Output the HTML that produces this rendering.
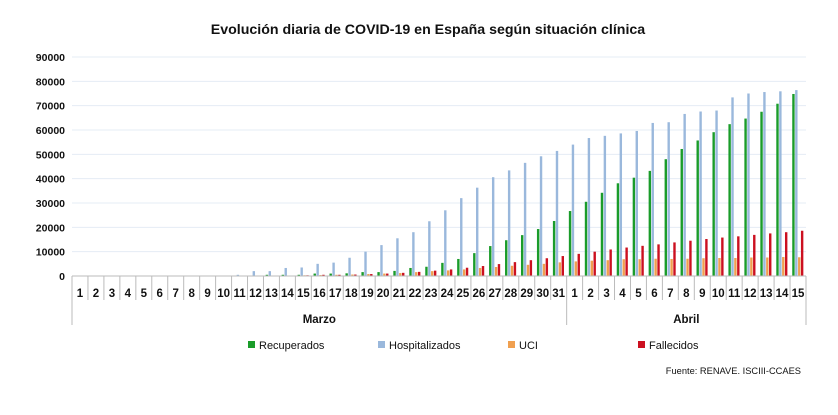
<!DOCTYPE html>
<html><head><meta charset="utf-8"><style>
body{margin:0;background:#fff;width:838px;height:410px;overflow:hidden;font-family:"Liberation Sans",Arial,sans-serif}
</style></head><body>
<svg id="s" width="838" height="410" xmlns="http://www.w3.org/2000/svg" font-family="Liberation Sans, Arial, sans-serif">
<text x="428" y="34" text-anchor="middle" font-size="14.2" font-weight="bold" fill="#111">Evolución diaria de COVID-19 en España según situación clínica</text>
<text x="801" y="374" text-anchor="end" font-size="9.3" fill="#111">Fuente: RENAVE. ISCIII-CCAES</text>
</svg>
<script>
var s=document.getElementById('s'),NS='http://www.w3.org/2000/svg';
function el(t,a,txt){var e=document.createElementNS(NS,t);for(var k in a)e.setAttribute(k,a[k]);if(txt!=null)e.textContent=txt;s.appendChild(e);return e;}
var x0=72,x1=806,y0=276,ppu=219/90000,n=46,w=(x1-x0)/n;
for(var i=0;i<=9;i++){var y=y0-i*10000*ppu;
 if(i>0)el('line',{x1:x0,x2:x1,y1:y,y2:y,stroke:'#e4ecf5','stroke-width':1});
 el('text',{x:65,y:y+4,'text-anchor':'end','font-size':10.5,'font-weight':'bold',fill:'#111'},String(i*10000));}
var z=Array(9).fill(0);
var hosp=z.concat([200,500,2000,2000,3300,3500,5000,5500,7500,10000,12700,15500,18000,22500,27000,32000,36300,40600,43400,46500,49200,51400,54000,56700,57600,58600,59600,62900,63200,66600,67600,68000,73400,75000,75600,75900,76400]);
var rec=z.concat([0,0,0,500,500,500,1000,1000,1100,1600,1600,2100,3300,3800,5400,7000,9400,12300,14700,16800,19300,22600,26700,30500,34200,38100,40400,43200,48000,52200,55700,59100,62400,64700,67500,70800,74800]);
var uci=z.concat([0,0,100,100,200,300,400,500,600,800,1000,1200,1600,2000,2300,2700,3300,3700,4200,4600,5000,5600,6000,6300,6500,6900,6900,7100,7000,7100,7300,7400,7400,7600,7600,7800,7700]);
var fal=z.concat([0,0,50,100,200,300,500,500,600,800,1000,1300,1700,2200,2700,3400,4100,4900,5700,6500,7300,8200,9100,10000,10900,11700,12400,13000,13800,14500,15200,15800,16300,16900,17500,18000,18600]);
var ser=[[rec,'#1a9c2a'],[hosp,'#9ab8dc'],[uci,'#f0a050'],[fal,'#cc1020']];
for(var d=0;d<n;d++){var cx=x0+d*w;
 ser.forEach(function(p,j){var v=p[0][d];if(v>0){var h=v*ppu;el('rect',{x:cx+2.2+j*2.9,y:y0-h,width:2.4,height:h,fill:p[1]});}});
 el('line',{x1:cx,x2:cx,y1:y0,y2:(d==0||d==31)?325:300,stroke:'#bbb','stroke-width':1});
 el('text',{x:cx+w/2,y:297,'text-anchor':'middle','font-size':11.5,'font-weight':'bold',fill:'#111'},String(d<31?d+1:d-30));}
el('line',{x1:x1,x2:x1,y1:y0,y2:325,stroke:'#bbb'});
el('line',{x1:x0,x2:x1,y1:y0,y2:y0,stroke:'#bbb'});
el('text',{x:x0+15.5*w,y:323,'text-anchor':'middle','font-size':11.5,'font-weight':'bold',fill:'#111'},'Marzo');
el('text',{x:x0+38.5*w,y:323,'text-anchor':'middle','font-size':11.5,'font-weight':'bold',fill:'#111'},'Abril');
var lg=[['Recuperados',248],['Hospitalizados',378],['UCI',508],['Fallecidos',638]];
lg.forEach(function(l,j){el('rect',{x:l[1],y:341,width:7,height:7,fill:ser[j][1]});el('text',{x:l[1]+11,y:349,'font-size':11,fill:'#111'},l[0]);});
</script>
</body></html>
